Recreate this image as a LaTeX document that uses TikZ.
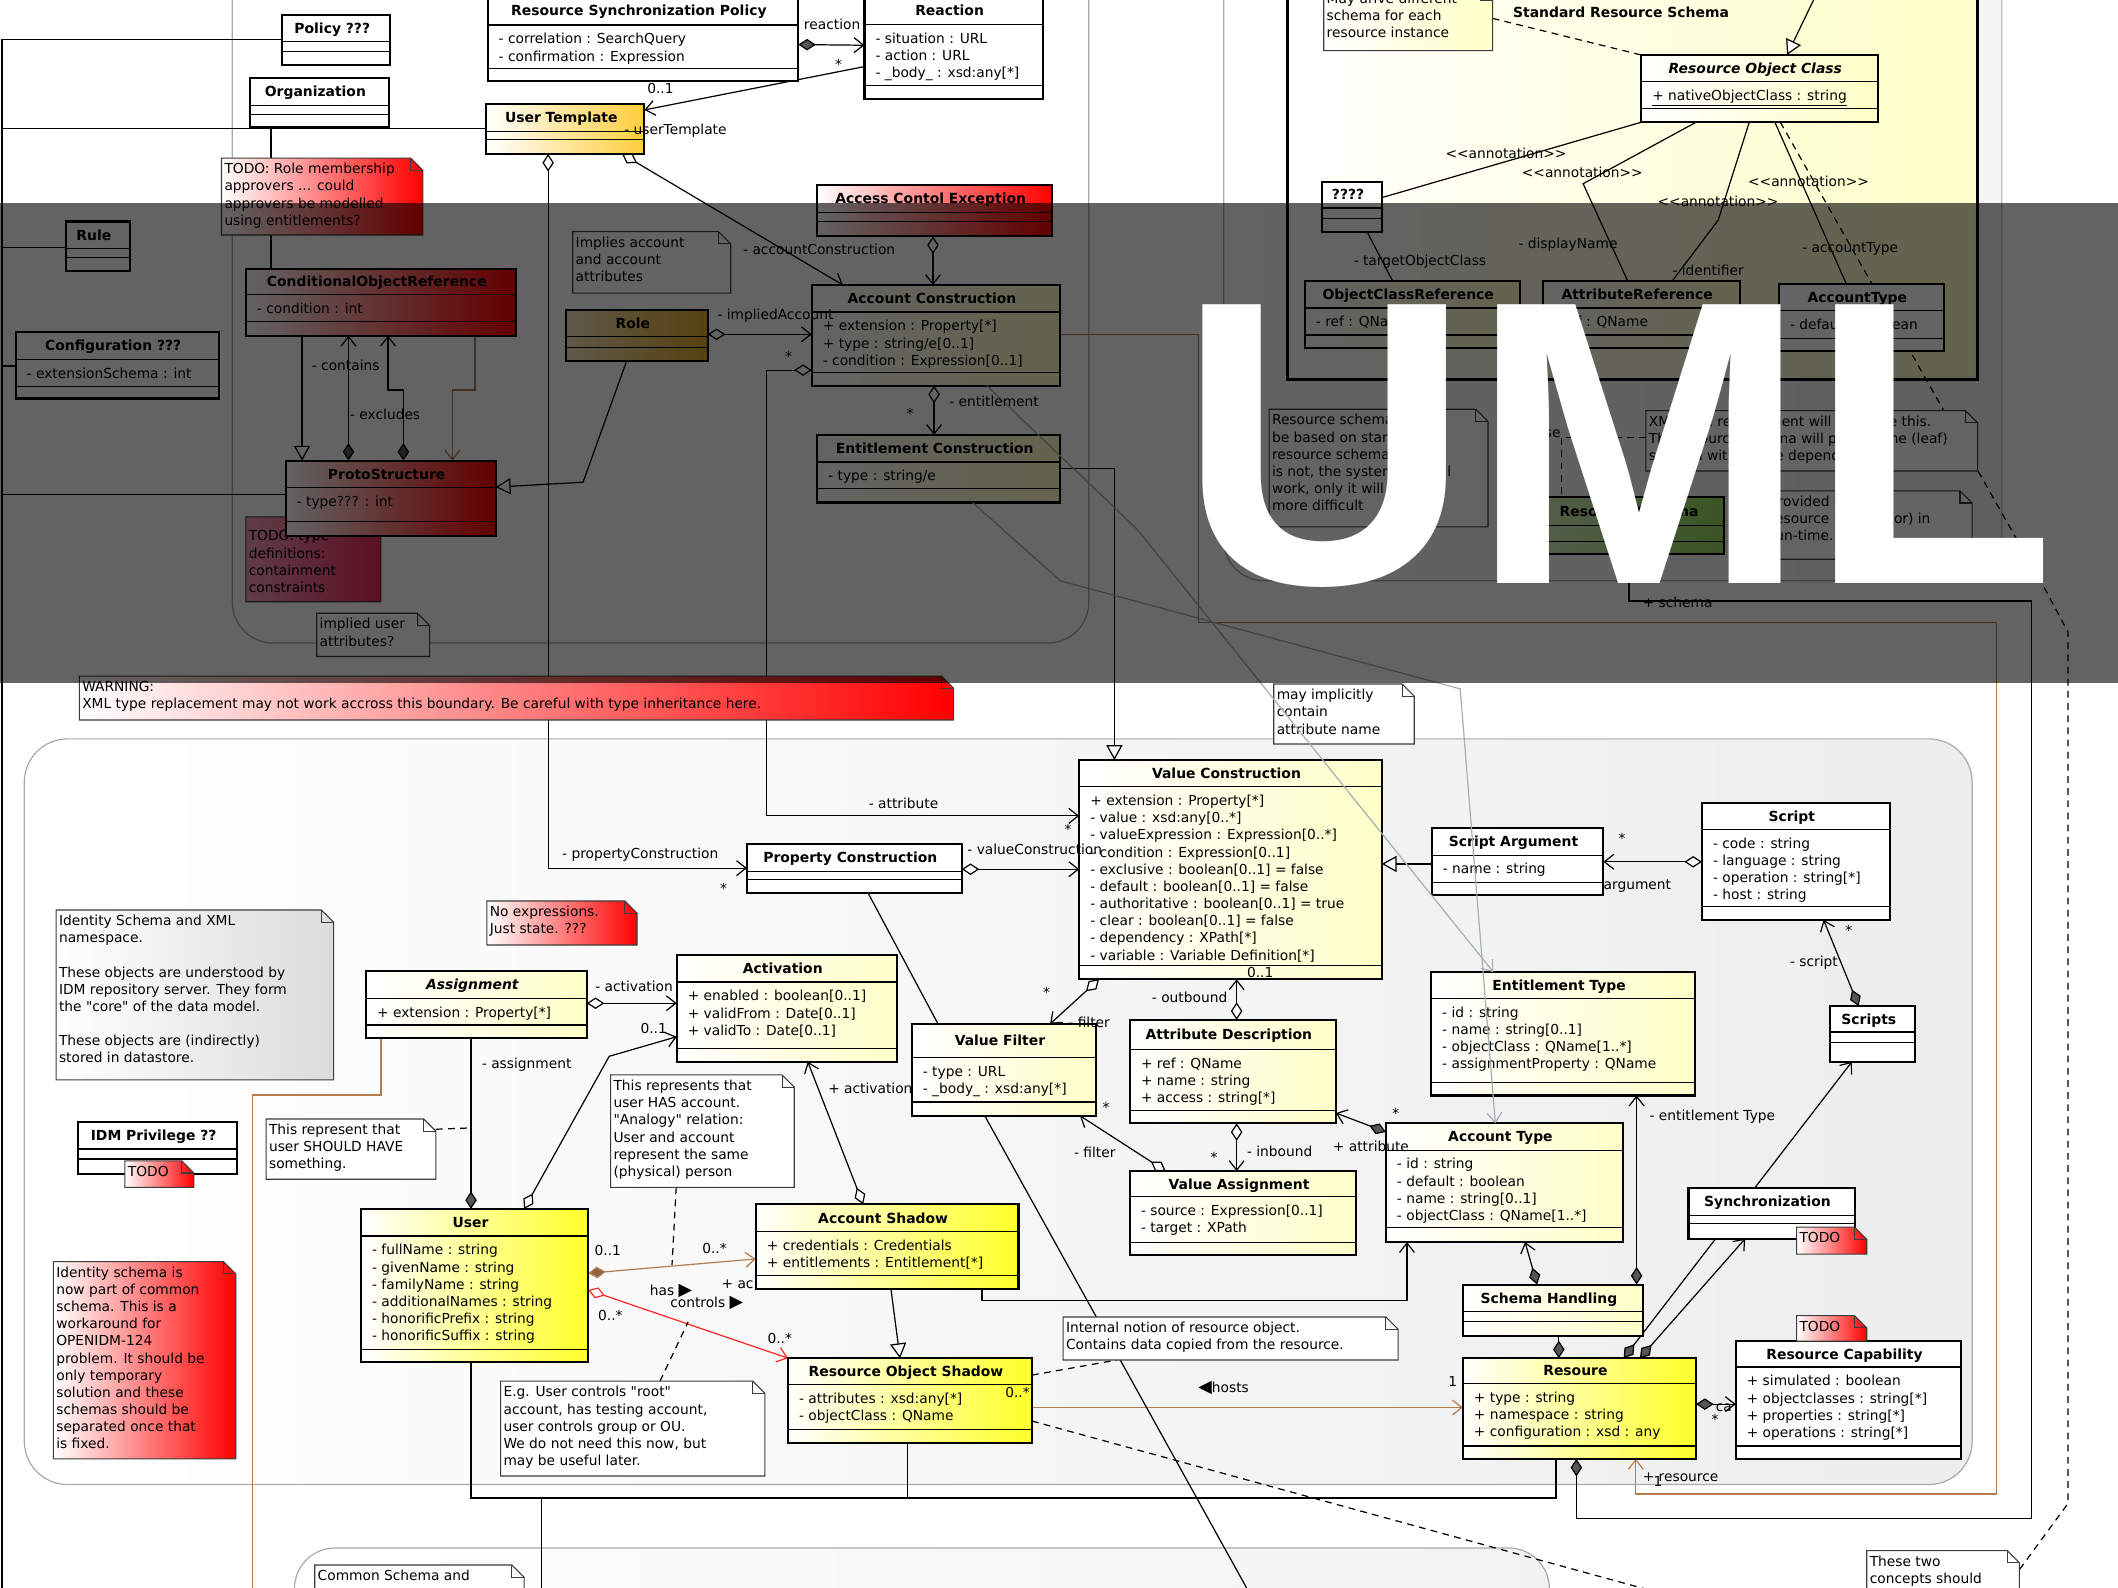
\documentclass[tikz,border=0pt]{standalone}
\usepackage{fontspec}
\setmainfont{DejaVu Sans}[Ligatures=TeXOff]
\newfontfamily\umlfont{Liberation Sans}
\usetikzlibrary{arrows.meta}
\definecolor{paleY}{RGB}{255,255,200}
\definecolor{brightY}{RGB}{255,255,40}
\definecolor{goldY}{RGB}{255,205,60}
\definecolor{roleC}{RGB}{225,170,40}
\definecolor{brn}{RGB}{180,125,80}
\definecolor{lgray}{RGB}{165,175,180}
\definecolor{pkgc}{RGB}{170,170,170}
\definecolor{dgr}{RGB}{85,85,85}
\definecolor{pinkR}{RGB}{235,40,90}
\definecolor{grn}{RGB}{150,220,90}
\definecolor{nbd}{RGB}{60,60,60}
\definecolor{redl}{RGB}{255,40,40}
\newcommand\mfs{\fontsize{10.2}{12.7}\selectfont}
\newcommand\ttlfont{\bfseries\fontsize{10.3}{12.7}\selectfont}
\pgfdeclarelayer{pkgl}\pgfdeclarelayer{connl}\pgfdeclarelayer{frontl}\pgfdeclarelayer{topl}
\pgfsetlayers{pkgl,connl,main,frontl,topl}
\tikzset{
 Bo/.tip={Straight Barb[length=7pt,width=11pt]},
 Dw/.tip={Diamond[length=13pt,width=8.5pt,fill=white]},
 Df/.tip={Diamond[length=13pt,width=8.5pt,fill=dgr]},
 Db/.tip={Diamond[length=13pt,width=8.5pt,fill=brn!80!black]},
 Tw/.tip={Triangle[length=11pt,width=12pt,fill=white]},
 conn/.style={draw=black,line width=0.9pt},
 connb/.style={draw=brn,line width=0.9pt},
 connr/.style={draw=redl,line width=0.9pt},
 conng/.style={draw=lgray,line width=0.9pt},
 dsh/.style={draw=black,line width=0.9pt,dash pattern=on 5pt off 4pt},
 pkgs/.style={draw=pkgc,line width=0.9pt,rounded corners=30pt},
 cbox/.style={draw=black,line width=1.6pt,inner sep=0pt,outer sep=0pt,anchor=north west},
 sepl/.style={draw=black,line width=0.8pt},
 ttl/.style={font=\ttlfont,inner sep=0pt,text height=7.5pt,text depth=0pt,anchor=center},
 atxt/.style={font=\mfs,inner sep=0pt,anchor=north west,align=left},
 ntxt/.style={font=\mfs,inner sep=0pt,anchor=north west,align=left},
 lbl/.style={font=\mfs,inner sep=0pt,text height=7.5pt,text depth=0pt,anchor=west},
 notebd/.style={draw=nbd,line width=0.8pt},
 wf/.style={fill=white},
 paleg/.style={left color=white,right color=paleY},
 brightg/.style={left color=white,right color=brightY},
 goldg/.style={left color=white,right color=goldY},
 roleg/.style={left color=white!70!roleC,right color=roleC},
 redg/.style={left color=white,right color=red},
 pinkg/.style={left color=white!55!pinkR,right color=pinkR},
 grayg/.style={left color=white,right color=black!14},
 greeng/.style={left color=grn!40,right color=grn},
 yelg/.style={left color=white,right color=paleY},
}
\newcounter{lbc}
\newcommand\lb[3]{\stepcounter{lbc}\node[lbl] (lab\arabic{lbc}) at (#1,#2) {#3};}
\newcommand\cls[9]{%
 \node[cbox,#2,minimum width={#5-(#3)},minimum height={#6-(#4)}] (#1) at (#3,#4) {};
 \draw[sepl] (#3,#7) -- (#5,#7) (#3,#8) -- (#5,#8);
 \node[ttl] (#1-t) at ({(#3+#5)/2-3},{(#4+#7)/2}) {#9};
}
\newcommand\att[4]{\node[atxt] (#1-a) at ({#2+8},{#3+4.2}) {\rule{0pt}{9.6pt}#4};}
\newcommand\note[7]{%
 \node[inner sep=0pt,outer sep=0pt,minimum width={#5-(#3)},minimum height={#6-(#4)},anchor=north west] (#1) at (#3,#4) {};
 \path[notebd,#2] (#3,#4) -- ({#5-9},#4) -- (#5,{#4+9}) -- (#5,#6) -- (#3,#6) -- cycle;
 \draw[notebd] ({#5-9},#4) -- ({#5-9},{#4+9}) -- (#5,{#4+9});
 \node[ntxt] (#1-x) at ({#3+2},{#4+1.8}) {\rule{0pt}{9.6pt}#7};
}
\begin{document}
\begin{tikzpicture}[x=1pt,y=-1pt]
\useasboundingbox (0,0) rectangle (1568,1175);
\begin{pgfonlayer}{pkgl}
\fill[white] (0,0) rectangle (1568,1175);
\path[pkgs,fill=white] (172,-60) rectangle (806,476);
\path[pkgs,left color=white,right color=black!4] (906,-60) rectangle (1482,430);
\path[draw=black,line width=1.8pt,left color=white,right color=paleY] (953,-30) rectangle (1464,281);
\path[pkgs,left color=white,right color=black!7,rounded corners=32pt] (18,547) rectangle (1460,1099);
\path[pkgs,left color=white,right color=black!5] (218,1146) rectangle (1147,1260);
\end{pgfonlayer}

% ---------- top classes
\cls{policy}{wf}{209}{11}{289}{48}{31}{38}{Policy ???}
\cls{org}{wf}{185}{58}{288}{94}{78}{85}{Organization}
\cls{rsp}{wf}{361}{-3}{591}{60}{18.5}{50.5}{Resource Synchronization Policy}
\att{rsp}{361}{18.5}{- correlation : SearchQuery\\- confirmation : Expression}
\cls{reaction}{wf}{640}{-3}{772}{73}{18}{63}{Reaction}
\att{reaction}{640}{18}{- situation : URL\\- action : URL\\- \_body\_ : xsd:any[*]}
\cls{utempl}{goldg}{360}{77}{477}{114}{97.5}{103.6}{User Template}
\cls{ace}{redg}{605}{137}{779}{175}{157}{164}{Access Contol Exception}
\cls{rule}{wf}{49}{164}{96}{200.7}{184}{190.5}{Rule}
\cls{config}{wf}{11.6}{246}{162}{295}{266}{286}{Configuration ???}
\att{config}{11.6}{266}{- extensionSchema : int}
\cls{cor}{redg}{182}{199}{382}{248.5}{218}{238}{ConditionalObjectReference}
\att{cor}{182}{218}{- condition : int}
\note{ntodotype}{pinkg}{182}{382.6}{282}{445.5}{}
\node[ntxt] (ntodotype-t) at (184,390.6) {\rule{0pt}{9.6pt}TODO: type\\definitions:\\containment\\constraints};
\cls{proto}{redg}{211.5}{341}{367}{397}{361}{386}{ProtoStructure}
\att{proto}{211.5}{361}{- type??? : int}
\cls{role}{roleg}{419}{229.5}{524}{267}{249}{257}{Role}
\cls{ac}{paleg}{601}{211}{785}{285.5}{231}{276}{Account Construction}
\att{ac}{601}{231}{+ extension : Property[*]\\+ type : string/e[0..1]\\- condition : Expression[0..1]}
\cls{ec}{paleg}{605}{322}{785}{372}{342}{361.5}{Entitlement Construction}
\att{ec}{605}{342}{- type : string/e}
% schema frame
\cls{roc}{paleg}{1215}{40.7}{1390}{90.5}{60.5}{80}{\itshape Resource Object Class}
\att{roc}{1215}{60.5}{\underline{+ nativeObjectClass : string}}
\cls{qq}{wf}{979}{134.5}{1023}{171.5}{154}{161.5}{????}
\cls{objref}{paleg}{966}{208}{1125}{257.7}{228}{248}{ObjectClassReference}
\att{objref}{966}{228}{- ref : QName}
\cls{attref}{paleg}{1142}{208}{1288}{257.7}{228}{248}{AttributeReference}
\att{attref}{1142}{228}{- ref : QName}
\cls{acctypes}{wf}{1317}{210.5}{1439}{260}{230}{250.5}{AccountType}
\att{acctypes}{1317}{230}{- default : boolean}
\cls{rschema}{greeng}{1142}{368}{1276}{410}{389}{401}{Resource Schema}

% ---------- middle classes
\cls{assign}{paleg}{271}{719}{434.4}{768.6}{739}{758.8}{\itshape Assignment}
\att{assign}{271}{739}{+ extension : Property[*]}
\cls{activ}{paleg}{501}{707}{664}{786}{727}{776}{Activation}
\att{activ}{501}{727}{+ enabled : boolean[0..1]\\+ validFrom : Date[0..1]\\+ validTo : Date[0..1]}
\cls{pc}{wf}{553}{625}{712}{661}{645}{650.8}{Property Construction}
\cls{vc}{paleg}{799}{562.6}{1023}{725}{582.4}{715}{Value Construction}
\att{vc}{799}{582.4}{+ extension : Property[*]\\- value : xsd:any[0..*]\\- valueExpression : Expression[0..*]\\- condition : Expression[0..1]\\- exclusive : boolean[0..1] = false\\- default : boolean[0..1] = false\\- authoritative : boolean[0..1] = true\\- clear : boolean[0..1] = false\\- dependency : XPath[*]\\- variable : Variable Definition[*]}
\cls{sa}{wf}{1060}{613}{1187}{662.6}{633}{653}{Script Argument}
\att{sa}{1060}{633}{- name : string}
\cls{script}{wf}{1260}{594.6}{1399}{681}{613.8}{671.4}{Script}
\att{script}{1260}{613.8}{- code : string\\- language : string\\- operation : string[*]\\- host : string}
\cls{scripts}{wf}{1355}{744.8}{1418}{786}{764}{772}{Scripts}
\cls{et}{paleg}{1059.5}{719.6}{1255}{811}{739}{801.6}{Entitlement Type}
\att{et}{1059.5}{739}{- id : string\\- name : string[0..1]\\- objectClass : QName[1..*]\\- assignmentProperty : QName}
\cls{vf}{paleg}{675}{758}{811.6}{826}{783}{815.8}{Value Filter}
\att{vf}{675}{783}{- type : URL\\- \_body\_ : xsd:any[*]}
\cls{ad}{paleg}{836.5}{755}{989}{831.6}{777}{821.8}{Attribute Description}
\att{ad}{836.5}{777}{+ ref : QName\\+ name : string\\+ access : string[*]}
\cls{va}{paleg}{836.5}{867}{1004}{929}{886}{919.5}{Value Assignment}
\att{va}{836.5}{886}{- source : Expression[0..1]\\- target : XPath}
\cls{at}{paleg}{1026}{831.6}{1201.6}{919.5}{851.4}{909}{Account Type}
\att{at}{1026}{851.4}{- id : string\\- default : boolean\\- name : string[0..1]\\- objectClass : QName[1..*]}
\cls{sh}{paleg}{1083}{951}{1216.5}{989}{971}{978.5}{Schema Handling}
\cls{res}{brightg}{1083}{1005.5}{1255.6}{1080}{1024}{1070.5}{Resoure}
\att{res}{1083}{1024}{+ type : string\\+ namespace : string\\+ configuration : xsd : any}
\cls{sync}{wf}{1250}{879.6}{1373}{917}{899.6}{906}{Synchronization}
\cls{rcap}{wf}{1285}{992.8}{1452}{1080}{1012}{1070.5}{Resource Capability}
\att{rcap}{1285}{1012}{+ simulated : boolean\\+ objectclasses : string[*]\\+ properties : string[*]\\+ operations : string[*]}
\cls{user}{brightg}{267.3}{895}{435.5}{1008}{915}{998.9}{User}
\att{user}{267.3}{915}{- fullName : string\\- givenName : string\\- familyName : string\\- additionalNames : string\\- honorificPrefix : string\\- honorificSuffix : string}
\cls{ash}{brightg}{559.6}{891.5}{754}{954.3}{911.8}{944}{Account Shadow}
\att{ash}{559.6}{911.8}{+ credentials : Credentials\\+ entitlements : Entitlement[*]}
\cls{ros}{brightg}{583.4}{1005.5}{764}{1068}{1025}{1058}{Resource Object Shadow}
\att{ros}{583.4}{1025}{- attributes : xsd:any[*]\\- objectClass : QName}
\cls{idmp}{wf}{58}{830.6}{175.5}{869}{850.6}{858}{IDM Privilege ??}

% ---------- notes
\note{ntodorole}{redg}{164}{117}{313}{174}{TODO: Role membership\\approvers ... could\\approvers be modelled\\using entitlements?}
\note{nimplies}{wf}{424}{171.5}{541}{217}{Implies account\\and account\\attributes}
\note{nmay}{yelg}{980}{-9}{1105}{37.5}{May arive different\\schema for each\\resource instance}
\note{nrsch}{wf}{939.5}{303}{1101.6}{390}{Resource schema should\\be based on standard\\resource schema. if it\\is not, the system will still\\work, only it will be a bit\\more difficult}
\note{nxml}{wf}{1218.5}{304}{1464}{348.7}{XML type replacement will work like this.\\The resource schema will provide the (leaf)\\schema with all the dependencies.}
\note{nprov}{wf}{1308}{363.4}{1460}{414}{Provided by\\resource (connector) in\\run-time.}
\note{nimplied}{wf}{234.5}{454}{318}{486}{implied user\\attributes?}
\note{nwarn}{redg}{58.7}{500.5}{706}{533}{WARNING:\\XML type replacement may not work accross this boundary. Be careful with type inheritance here.}
\note{nident}{grayg}{41.5}{673.7}{247}{799.5}{Identity Schema and XML\\namespace.\\[12.7pt]These objects are understood by\\IDM repository server. They form\\the "core" of the data model.\\[12.7pt]These objects are (indirectly)\\stored in datastore.}
\note{nnoexp}{redg}{360.4}{667}{471.6}{699.6}{No expressions.\\Just state. ???}
\note{ntodoidm}{redg}{92.5}{859.4}{143.5}{879}{TODO}
\note{nshould}{wf}{197}{828.4}{322.7}{873}{This represent that\\user SHOULD HAVE\\something.}
\note{nident2}{redg}{39.5}{934}{174.5}{1080}{Identity schema is\\now part of common\\schema. This is a\\workaround for\\OPENIDM-124\\problem. It should be\\only temporary\\solution and these\\schemas should be\\separated once that\\is fixed.}
\note{nhas}{wf}{452}{795.8}{588}{879}{This represents that\\user HAS account.\\"Analogy" relation:\\User and account\\represent the same\\(physical) person}
\note{neg}{wf}{370.6}{1022.5}{566.3}{1092.7}{E.g. User controls "root"\\account, has testing account,\\user controls group or OU.\\We do not need this now, but\\may be useful later.}
\note{nint}{wf}{787}{975}{1035}{1006.8}{Internal notion of resource object.\\Contains data copied from the resource.}
\note{nimpl}{wf}{943}{506.4}{1047}{550.8}{may implicitly\\contain\\attribute name}
\note{ntodosync}{redg}{1330}{908.5}{1382}{928.4}{TODO}
\note{ntodorcap}{redg}{1330}{974}{1382}{992.8}{TODO}
\note{ncommon}{wf}{233}{1158.6}{388}{1200}{Common Schema and}
\note{ntwo}{wf}{1382}{1148}{1495}{1200}{These two\\concepts should}

% ---------- connectors (under boxes)
\begin{pgfonlayer}{connl}
\draw[conn] (policy.west |- 0,29) -- (1.5,29) -- (1.5,1180);
\draw[conn] (1.5,95) -- (utempl.west |- 0,95);
\draw[conn] (1.5,183) -- (rule.west |- 0,183);
\draw[conn] (1.5,271) -- (config.west |- 0,271);
\draw[conn] (1.5,366) -- (proto.west |- 0,366);
\draw[conn] (200.6,0 |- org.south) -- (200.6,0 |- ntodorole.north);
\draw[conn] (200.6,0 |- ntodorole.south) -- (200.6,0 |- cor.north);
\draw[conn,Df-Bo] (rsp.east |- 0,33) -- (reaction.west |- 0,33.5);
\draw[conn,-Bo] (reaction.west |- 0,49.3) -- (utempl.east |- 0,81.4);
\draw[conn,Dw-Bo] (405.8,0 |- utempl.south) -- (405.8,642.7) -- (pc.west |- 0,642.7);
\draw[conn,Dw-Bo] (460.5,0 |- utempl.south) -- (624,0 |- ac.north);
\draw[conn,Dw-Bo] (690.7,0 |- ace.south) -- (690.7,0 |- ac.north);
\draw[conn,Dw-Bo] (role.east |- 0,247.5) -- (ac.west |- 0,247.5);
\draw[conn,-Tw] (464,0 |- role.south) -- (431.6,357) -- (proto.east |- 0,360.6);
\draw[conn,Dw-Bo] (ac.west |- 0,274) -- (567.6,274) -- (567.6,604) -- (vc.west |- 0,604);
\draw[conn,Dw-Bo] (691.5,0 |- ac.south) -- (691.5,0 |- ec.north);
\draw[conn,-Tw] (ec.east |- 0,347) -- (825,347) -- (825,0 |- vc.north);
\draw[conn,Dw-Bo] (pc.east |- 0,643.5) -- (vc.west |- 0,643.5);
\draw[conn] (642.6,0 |- pc.south) -- (694.4,0 |- vf.north);
\draw[conn,Dw-Bo] (813.6,0 |- vc.south) -- (777.4,0 |- vf.north);
\draw[conn,Dw-Bo] (863,0 |- va.north) -- (799.5,0 |- vf.south);
\draw[conn,Dw-Bo] (915.5,0 |- ad.south) -- (915.5,0 |- va.north);
\draw[conn,Dw-Bo] (915.5,0 |- ad.north) -- (915.5,0 |- vc.south);
\draw[conn,Df-Bo] (at.west |- 0,838) -- (ad.east |- 0,824);
\draw[conn,Dw-Bo] (script.west |- 0,638) -- (sa.east |- 0,638);
\draw[conn,-Tw] (sa.west |- 0,639.6) -- (vc.east |- 0,639.6);
\draw[conn,Df-Bo] (1376,0 |- scripts.north) -- (1350,0 |- script.south);
\draw[conn,Df-Bo] (1138,0 |- sh.north) -- (1129,0 |- at.south);
\draw[conn,Df-Bo] (1211.6,0 |- sh.north) -- (1211.6,0 |- et.south);
\draw[conn,Df-] (1154,0 |- res.north) -- (1154,0 |- sh.south);
\draw[conn,Df-Bo] (1202,0 |- res.north) -- (1371,0 |- scripts.south);
\draw[conn,Df-Bo] (1214,0 |- res.north) -- (1292,0 |- sync.south);
\draw[conn,Df-Bo] (res.east |- 0,1039.5) -- (rcap.west |- 0,1039.5);
\draw[conn,Df-] (1167,0 |- res.south) -- (1167,1124) -- (1504,1124) -- (1504,445) -- (1206,445) -- (1206,0 |- rschema.south);
\draw[connb,-Bo] (ros.east |- 0,1042) -- (res.west |- 0,1042);
\draw[connb,Db-Bo] (user.east |- 0,942.6) -- (ash.west |- 0,932);
\draw[connr,Dw-Bo] (user.east |- 0,955) -- (ros.north west);
\draw[conn,Dw-Bo] (639,0 |- ash.north) -- (598,0 |- activ.south);
\draw[conn,-Tw] (659.6,0 |- ash.south) -- (666.3,0 |- ros.north);
\draw[conn,-Bo] (727,0 |- ash.south) -- (727,963) -- (1041.6,963) -- (1041.6,0 |- at.south);
\draw[conn,Dw-Bo] (assign.east |- 0,742.7) -- (activ.west |- 0,742.7);
\draw[conn,Dw-Bo] (388,0 |- user.north) -- (451,782) -- (activ.west |- 0,767.5);
\draw[conn,Df-] (348.7,0 |- user.north) -- (348.7,0 |- assign.south);
\draw[connb] (282,0 |- assign.south) -- (282,810.6) -- (187,810.6) -- (187,1180);
\draw[dsh] (nshould.east |- 0,836) -- (348.7,835);
\draw[dsh] (500.6,0 |- nhas.south) -- (497.5,936.5);
\draw[dsh] (488.6,0 |- neg.north) -- (509.4,978.7);
\draw[dsh] (ros.east |- 0,1018) -- (827,0 |- nint.south);
\draw[dsh] (ros.east |- 0,1052) -- (1330,1207);
\draw[conn] (729,0 |- vf.south) -- (942,1210);
\draw[connb,-Bo] (ac.east |- 0,247.5) -- (887,247.5) -- (887,460.6) -- (1478,460.6) -- (1478,1106) -- (1211,1106) -- (1211,0 |- res.south);
\draw[conn] (348.7,0 |- user.south) -- (348.7,1109) -- (1152,1109) -- (1152,0 |- res.south);
\draw[conn] (672,0 |- ros.south) -- (672,1109);
\draw[conn] (401,1109) -- (401,1180);
\draw[conn,-Tw] (223.6,0 |- cor.south) -- (223.6,0 |- proto.north);
\draw[conn,Df-Bo] (258,0 |- proto.north) -- (258,0 |- cor.south);
\draw[conn,Df-Bo] (298.6,0 |- proto.north) -- (298.6,288.7) -- (287.3,288.7) -- (287.3,0 |- cor.south);
\draw[connb,-Bo] (351.6,0 |- cor.south) -- (351.6,288.7) -- (334.9,288.7) -- (334.9,0 |- proto.north);
\draw[conn,-Tw] (1345,-5) -- (1323,0 |- roc.north);
\draw[dsh] (nmay.east |- 0,13.6) -- (roc.north west);
\draw[conn] (roc.south west) -- (qq.east |- 0,146.3);
\draw[conn] (1255.6,0 |- roc.south) -- (1172,136) -- (1205,0 |- attref.north);
\draw[conn] (1295,0 |- roc.south) -- (1272,163) -- (1238,0 |- attref.north);
\draw[conn] (1314,0 |- roc.south) -- (1367,0 |- acctypes.north);
\draw[conn] (1012,0 |- qq.south) -- (1031,0 |- objref.north);
\draw[dsh] (1318,0 |- roc.south) -- (1515,438) -- (1531,468) -- (1531,1113) -- (ntwo.east |- 0,1162);
\draw[dsh] (nxml.west |- 0,324) -- (1156,324) -- (1156,0 |- rschema.north);
\end{pgfonlayer}

% ---------- lines over boxes and labels
\begin{pgfonlayer}{frontl}
\draw[conng,-Bo] (730.5,0 |- ac.south) -- (842,392) -- (1105.5,0 |- et.north);
\draw[conng,-Bo] (720,0 |- ec.south) -- (785,430) -- (1081,510) -- (1107,0 |- at.north);
\lb{595}{17.8}{reaction}
\lb{618}{48}{*}
\lb{479}{65.4}{0..1}
\lb{462}{95.5}{- userTemplate}
\lb{550}{185}{- accountConstruction}
\lb{531}{233}{- impliedAccount}
\lb{581}{264}{*}
\lb{671}{306}{*}
\lb{702.6}{297.4}{- entitlement}
\lb{230.7}{270.7}{- contains}
\lb{259}{306.5}{- excludes}
\lb{643}{594.5}{- attribute}
\lb{416}{632}{- propertyConstruction}
\lb{533}{658}{*}
\lb{716}{628.5}{- valueConstruction}
\lb{788}{614}{*}
\lb{1002}{193}{- targetObjectClass}
\lb{1070}{113.5}{<<annotation>>}
\lb{1126.5}{127.6}{<<annotation>>}
\lb{1227}{149}{<<annotation>>}
\lb{1294}{134.5}{<<annotation>>}
\lb{1124}{180}{- displayName}
\lb{1238}{200}{- identifier}
\lb{1334}{183}{- accountType}
\node[lbl,font=\ttlfont] (srslabel) at (1120,9) {Standard Resource Schema};
\lb{1137}{320}{use}
\lb{1216}{446}{+ schema}
\lb{852.6}{738.6}{- outbound}
\lb{923}{720}{0..1}
\lb{790.8}{757}{- filter}
\lb{772}{735}{*}
\lb{795}{853.5}{- filter}
\lb{816}{819.5}{*}
\lb{923}{852.6}{- inbound}
\lb{896}{857}{*}
\lb{986.6}{849}{+ attribute}
\lb{1030.5}{824}{*}
\lb{1198}{621}{*}
\lb{1187}{655}{argument}
\lb{1366}{688.5}{*}
\lb{1325}{711.5}{- script}
\lb{1221}{825.5}{- entitlement Type}
\lb{1270}{1041.5}{ca}
\lb{1267}{1051}{*}
\lb{1072}{1023}{1}
\lb{887}{1027.5}{{\fontsize{13}{13}\selectfont ◀}hosts}
\lb{744}{1031}{0..*}
\lb{1216}{1093}{+ resource}
\lb{1224}{1097}{1}
\lb{440}{925.4}{0..1}
\lb{519.7}{924}{0..*}
\lb{481}{955}{has {\fontsize{13}{13}\selectfont ▶}}
\lb{442.6}{973.5}{0..*}
\lb{568}{990.5}{0..*}
\lb{496}{964}{controls {\fontsize{13}{13}\selectfont ▶}}
\lb{534}{950}{+ ac}
\lb{613}{806}{+ activation}
\lb{440.5}{730}{- activation}
\lb{474}{761}{0..1}
\lb{356.6}{787}{- assignment}
\end{pgfonlayer}

\begin{pgfonlayer}{topl}
\fill[black,opacity=0.61] (0,150) rectangle (1568,506);
\node[font=\umlfont\bfseries\fontsize{300}{300}\selectfont,text=white,inner sep=0pt,anchor=base west] (uml) at (872,432) {UML};
\end{pgfonlayer}
\end{tikzpicture}
\end{document}
